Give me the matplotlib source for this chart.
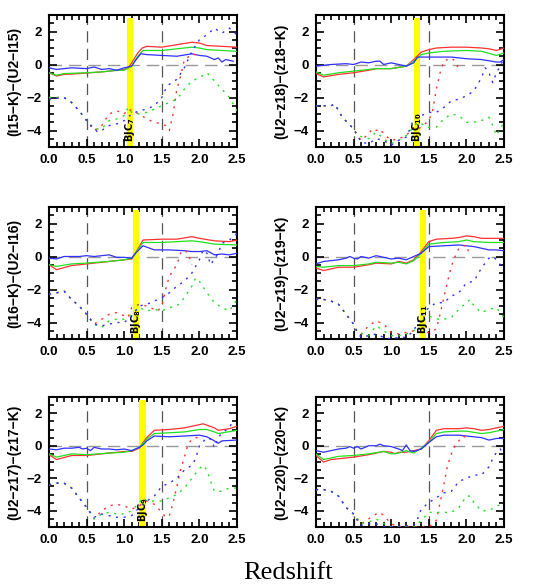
import matplotlib.pyplot as plt
from matplotlib.ticker import MultipleLocator

# panel labels and band positions
ylabels = ['(I15\u2212K)\u2212(U2\u2212I15)', '(U2\u2212z18)\u2212(z18\u2212K)',
           '(I16\u2212K)\u2212(U2\u2212I16)', '(U2\u2212z19)\u2212(z19\u2212K)',
           '(U2\u2212z17)\u2212(z17\u2212K)', '(U2\u2212z20)\u2212(z20\u2212K)']
band_z = [1.08, 1.345, 1.16, 1.425, 1.245, None]
band_names = ['7', '10', '8', '11', '9', None]

# ---- panel 1
p1_red = [(0, -0.5), (0.05, -0.6), (0.1, -0.7), (0.2, -0.6), (0.3, -0.58), (0.5, -0.52), (0.7, -0.45),
          (0.9, -0.35), (1.0, -0.3), (1.06, -0.15), (1.1, 0.1), (1.18, 0.7), (1.24, 1.0), (1.3, 1.1),
          (1.5, 1.05), (1.7, 1.2), (1.9, 1.35), (2.0, 1.3), (2.1, 1.15), (2.3, 1.1), (2.5, 1.05)]
p1_green = [(0, -0.5), (0.1, -0.65), (0.2, -0.55), (0.5, -0.5), (0.7, -0.45), (0.9, -0.35), (1.0, -0.35),
            (1.1, -0.1), (1.18, 0.5), (1.25, 0.85), (1.5, 0.85), (1.7, 0.95), (1.9, 1.05), (2.0, 1.0),
            (2.1, 0.9), (2.3, 0.85), (2.5, 0.8)]
p1_blue = [(0, -0.2), (0.1, -0.3), (0.3, -0.2), (0.5, -0.25), (0.6, -0.15), (0.7, -0.3), (0.8, -0.25),
           (0.9, -0.35), (1.0, -0.2), (1.1, -0.1), (1.15, 0.25), (1.22, 0.65), (1.3, 0.6), (1.5, 0.55),
           (1.7, 0.5), (1.9, 0.65), (2.0, 0.55), (2.1, 0.5), (2.2, 0.3), (2.25, 0.4), (2.3, 0.15),
           (2.35, 0.3), (2.45, 0.2)]
p1_red_d = [(0, -2.0), (0.2, -2.0), (0.3, -2.3), (0.4, -2.8), (0.5, -3.4), (0.6, -4.0), (0.7, -3.7),
            (0.8, -3.0), (0.9, -2.8), (1.0, -3.0), (1.05, -2.7), (1.1, -2.8), (1.2, -3.0), (1.3, -3.3),
            (1.4, -3.5), (1.5, -3.6), (1.55, -3.7), (1.6, -4.0), (1.65, -3.0), (1.7, -1.5), (1.75, -0.7),
            (1.8, 0.3), (1.9, 0.6), (2.0, 0.6)]
p1_green_d = [(0, -2.0), (0.2, -2.0), (0.3, -2.3), (0.4, -2.8), (0.5, -3.4), (0.6, -3.9), (0.7, -3.9),
              (0.8, -3.4), (0.9, -3.3), (1.0, -3.1), (1.05, -2.6), (1.1, -2.9), (1.2, -3.0), (1.3, -2.9),
              (1.4, -2.7), (1.5, -2.5), (1.6, -2.3), (1.7, -2.1), (1.8, -1.5), (1.9, -1.0), (2.0, -0.8),
              (2.1, -0.5), (2.2, -1.0), (2.3, -1.5), (2.4, -2.0), (2.5, -2.8)]
p1_blue_d = [(0, -2.1), (0.2, -2.0), (0.3, -2.3), (0.4, -2.8), (0.5, -3.4), (0.6, -3.9), (0.65, -4.1),
             (0.7, -4.0), (0.8, -3.7), (0.9, -3.6), (1.0, -3.4), (1.1, -3.0), (1.2, -2.8), (1.3, -2.7),
             (1.4, -2.5), (1.5, -2.0), (1.55, -1.5), (1.6, -1.2), (1.7, -0.9), (1.8, -0.2), (1.9, 0.8),
             (2.0, 1.5), (2.1, 1.8), (2.2, 2.2), (2.3, 1.9), (2.4, 2.2), (2.5, 1.8)]

# ---- panel 2
p2_red = [(0, -0.55), (0.1, -0.75), (0.3, -0.6), (0.5, -0.5), (0.7, -0.35), (0.8, -0.25), (1.0, -0.25),
          (1.2, -0.1), (1.3, 0.3), (1.4, 0.75), (1.5, 0.9), (1.6, 1.0), (1.8, 1.05), (2.0, 1.05),
          (2.2, 1.0), (2.3, 0.95), (2.4, 0.85), (2.5, 1.0)]
p2_green = [(0, -0.45), (0.1, -0.65), (0.3, -0.5), (0.5, -0.4), (0.8, -0.25), (1.0, -0.25), (1.2, -0.1),
            (1.3, 0.2), (1.4, 0.6), (1.5, 0.7), (1.7, 0.8), (2.0, 0.85), (2.2, 0.8), (2.4, 0.55), (2.5, 0.7)]
p2_blue = [(0, -0.1), (0.2, 0.0), (0.4, 0.05), (0.5, 0.0), (0.6, 0.15), (0.7, 0.1), (0.8, 0.2),
           (0.85, 0.2), (0.9, 0.0), (1.0, 0.1), (1.1, 0.0), (1.2, -0.1), (1.3, 0.1), (1.35, 0.45),
           (1.5, 0.45), (1.8, 0.45), (2.0, 0.35), (2.2, 0.3), (2.4, 0.15), (2.45, 0.15), (2.5, 0.3)]
p2_red_d = [(0, -2.5), (0.2, -2.5), (0.25, -2.4), (0.35, -3.2), (0.5, -3.9), (0.55, -4.3), (0.6, -4.6),
            (0.7, -4.2), (0.75, -3.9), (0.8, -4.0), (0.85, -3.9), (0.9, -4.2), (1.0, -4.6), (1.1, -4.5),
            (1.2, -4.3), (1.3, -3.8), (1.35, -3.9), (1.4, -3.8), (1.5, -3.4), (1.55, -2.8), (1.6, -1.5),
            (1.65, -0.5), (1.7, 0.2), (1.8, 0.4), (1.85, 0.2), (1.9, -0.3)]
p2_green_d = [(0, -2.5), (0.2, -2.5), (0.25, -2.4), (0.35, -3.2), (0.5, -3.9), (0.55, -4.3), (0.7, -4.5),
              (0.8, -4.1), (0.9, -4.5), (1.0, -4.8), (1.1, -4.6), (1.2, -4.3), (1.3, -3.8), (1.35, -3.5),
              (1.4, -3.6), (1.5, -3.8), (1.6, -3.8), (1.7, -3.3), (1.8, -3.0), (1.9, -3.1), (2.0, -3.5),
              (2.1, -3.5), (2.2, -3.4), (2.3, -3.2), (2.35, -3.7), (2.4, -4.3), (2.5, -3.5)]
p2_blue_d = [(0, -2.5), (0.2, -2.5), (0.25, -2.4), (0.35, -3.2), (0.5, -3.9), (0.55, -4.3), (0.6, -4.7),
             (0.7, -4.8), (0.8, -4.5), (0.9, -4.6), (1.0, -4.9), (1.1, -4.6), (1.2, -4.4), (1.25, -3.9),
             (1.3, -3.3), (1.4, -3.1), (1.5, -2.9), (1.6, -2.9), (1.7, -2.6), (1.8, -2.2), (1.9, -2.1),
             (2.0, -1.9), (2.1, -1.6), (2.2, -0.8), (2.25, -0.2), (2.3, -0.5), (2.35, -1.1), (2.4, -0.5),
             (2.45, -0.1), (2.5, 0.4)]

# ---- panel 3
p3_red = [(0, -0.5), (0.1, -0.8), (0.3, -0.55), (0.5, -0.45), (0.8, -0.3), (1.0, -0.2), (1.1, -0.15),
          (1.15, 0.2), (1.25, 1.0), (1.5, 1.05), (1.7, 1.05), (1.9, 1.2), (2.0, 1.1), (2.2, 0.95),
          (2.4, 0.9), (2.5, 1.0)]
p3_green = [(0, -0.5), (0.1, -0.6), (0.3, -0.45), (0.5, -0.4), (0.8, -0.3), (1.0, -0.2), (1.1, -0.1),
            (1.15, 0.2), (1.25, 0.85), (1.5, 0.85), (1.7, 0.9), (1.9, 0.95), (2.0, 0.9), (2.2, 0.75),
            (2.5, 0.7)]
p3_blue = [(0, -0.1), (0.1, -0.15), (0.2, 0.0), (0.4, 0.0), (0.5, 0.05), (0.6, 0.0), (0.7, 0.05),
           (0.8, 0.1), (0.9, -0.05), (1.0, -0.05), (1.1, -0.1), (1.15, 0.2), (1.25, 0.65), (1.4, 0.4),
           (1.6, 0.4), (1.8, 0.35), (1.9, 0.3), (2.0, 0.3), (2.1, 0.35), (2.2, 0.1), (2.3, 0.15),
           (2.4, 0.1), (2.5, 0.2)]
p3_red_d = [(0, -2.3), (0.1, -2.2), (0.2, -2.1), (0.3, -2.6), (0.4, -3.0), (0.5, -3.5), (0.6, -4.1),
            (0.7, -3.8), (0.8, -3.5), (0.9, -3.4), (1.0, -3.6), (1.05, -3.7), (1.1, -3.1), (1.2, -2.9),
            (1.3, -3.0), (1.4, -3.2), (1.45, -3.3), (1.5, -3.0), (1.55, -2.0), (1.6, -1.2), (1.7, -0.5),
            (1.75, 0.2), (1.8, 0.4), (1.85, 0.2), (1.9, -0.5)]
p3_green_d = [(0, -2.3), (0.1, -2.2), (0.2, -2.1), (0.3, -2.6), (0.4, -3.0), (0.5, -3.5), (0.6, -4.1),
              (0.7, -4.3), (0.8, -3.9), (0.9, -3.8), (1.0, -3.8), (1.1, -3.5), (1.2, -3.1), (1.3, -3.3),
              (1.4, -3.2), (1.5, -3.3), (1.6, -3.1), (1.7, -3.0), (1.8, -2.5), (1.9, -1.8), (1.95, -1.3),
              (2.0, -1.5), (2.1, -2.2), (2.2, -2.8), (2.3, -3.1), (2.4, -3.3), (2.5, -2.6)]
p3_blue_d = [(0, -2.3), (0.1, -2.2), (0.2, -2.1), (0.3, -2.6), (0.4, -3.0), (0.5, -3.5), (0.6, -4.1),
             (0.7, -4.2), (0.8, -4.1), (0.9, -4.0), (1.0, -4.0), (1.1, -3.6), (1.2, -3.0), (1.3, -2.9),
             (1.4, -2.7), (1.5, -2.5), (1.6, -2.2), (1.7, -1.8), (1.8, -1.5), (1.9, -1.0), (2.0, -0.2),
             (2.05, 0.4), (2.1, 0.2), (2.15, -0.5), (2.25, 0.2), (2.3, 0.8), (2.4, 1.0), (2.5, 1.4)]

# ---- panel 4
p4_red = [(0, -0.7), (0.1, -0.85), (0.3, -0.65), (0.5, -0.65), (0.7, -0.5), (0.8, -0.4), (1.0, -0.45),
          (1.1, -0.3), (1.2, -0.4), (1.3, -0.2), (1.4, 0.3), (1.5, 0.9), (1.6, 1.05), (1.8, 1.1),
          (1.9, 1.15), (2.0, 1.25), (2.1, 1.2), (2.2, 1.1), (2.4, 1.1), (2.5, 1.1)]
p4_green = [(0, -0.6), (0.1, -0.65), (0.3, -0.55), (0.5, -0.55), (0.7, -0.45), (0.8, -0.35), (1.0, -0.4),
            (1.1, -0.35), (1.2, -0.45), (1.3, -0.25), (1.4, 0.2), (1.5, 0.75), (1.7, 0.85), (1.9, 0.9),
            (2.0, 1.0), (2.1, 0.9), (2.3, 0.85), (2.5, 0.85)]
p4_blue = [(0, -0.45), (0.1, -0.3), (0.2, -0.25), (0.3, -0.2), (0.4, -0.1), (0.45, 0.0), (0.5, -0.1),
           (0.55, -0.15), (0.6, 0.0), (0.7, -0.1), (0.8, 0.05), (0.9, -0.05), (1.0, -0.15), (1.1, -0.1),
           (1.2, -0.2), (1.3, 0.0), (1.4, 0.2), (1.5, 0.6), (1.7, 0.65), (1.9, 0.7), (2.0, 0.65),
           (2.1, 0.6), (2.3, 0.4), (2.4, 0.4), (2.5, 0.35)]
p4_red_d = [(0, -2.6), (0.1, -2.6), (0.2, -2.7), (0.3, -2.9), (0.4, -3.5), (0.5, -4.1), (0.55, -4.6),
            (0.6, -4.7), (0.7, -4.2), (0.8, -3.9), (0.9, -4.1), (1.0, -4.6), (1.1, -4.7), (1.2, -4.6),
            (1.3, -4.5), (1.4, -4.6), (1.5, -4.6), (1.6, -4.4), (1.65, -3.5), (1.7, -2.5), (1.75, -1.5),
            (1.8, -0.6), (1.85, 0.0), (1.9, 0.5), (2.0, 0.7), (2.05, 0.0)]
p4_green_d = [(0, -2.6), (0.1, -2.6), (0.2, -2.7), (0.3, -2.9), (0.4, -3.5), (0.5, -4.1), (0.55, -4.6),
              (0.7, -4.8), (0.8, -4.2), (0.9, -4.5), (1.0, -4.8), (1.1, -4.8), (1.2, -4.7), (1.3, -4.5),
              (1.4, -4.0), (1.5, -3.6), (1.6, -3.8), (1.7, -3.8), (1.8, -3.7), (1.9, -3.2), (2.0, -2.8),
              (2.05, -2.6), (2.1, -3.0), (2.2, -3.4), (2.3, -3.2), (2.4, -3.1), (2.5, -3.7)]
p4_blue_d = [(0, -2.6), (0.1, -2.6), (0.2, -2.7), (0.3, -2.9), (0.4, -3.5), (0.5, -4.1), (0.55, -4.6),
             (0.6, -4.9), (0.7, -4.8), (0.8, -4.7), (0.9, -4.9), (1.0, -5.0), (1.1, -4.9), (1.2, -4.9),
             (1.3, -4.5), (1.35, -4.0), (1.4, -3.6), (1.5, -3.1), (1.6, -2.8), (1.7, -2.8), (1.8, -2.4),
             (1.9, -2.2), (2.0, -1.6), (2.1, -1.5), (2.2, -0.7), (2.3, -0.1), (2.35, 0.0), (2.4, -0.2),
             (2.45, -0.5), (2.5, -0.6)]

# ---- panel 5
p5_red = [(0, -0.55), (0.1, -0.85), (0.3, -0.6), (0.5, -0.6), (0.8, -0.45), (1.0, -0.35), (1.1, -0.35),
          (1.2, -0.15), (1.25, 0.2), (1.3, 0.5), (1.4, 0.95), (1.6, 1.0), (1.8, 1.1), (2.0, 1.3),
          (2.05, 1.35), (2.2, 1.1), (2.25, 0.95), (2.4, 1.05), (2.5, 1.2)]
p5_green = [(0, -0.5), (0.1, -0.7), (0.3, -0.5), (0.5, -0.55), (0.8, -0.45), (1.0, -0.4), (1.1, -0.3),
            (1.2, -0.1), (1.3, 0.4), (1.4, 0.75), (1.6, 0.8), (1.8, 0.85), (2.0, 1.0), (2.1, 1.0),
            (2.2, 0.85), (2.25, 0.75), (2.5, 0.95)]
p5_blue = [(0, -0.2), (0.1, -0.25), (0.2, -0.15), (0.3, -0.15), (0.4, -0.1), (0.45, -0.2), (0.5, -0.15),
           (0.55, -0.3), (0.6, -0.1), (0.7, -0.2), (0.8, -0.2), (0.9, -0.25), (1.0, -0.2), (1.1, -0.3),
           (1.2, -0.1), (1.25, 0.05), (1.3, 0.3), (1.4, 0.6), (1.6, 0.55), (1.8, 0.6), (2.0, 0.65),
           (2.1, 0.55), (2.2, 0.3), (2.25, 0.15), (2.3, 0.3), (2.5, 0.35)]
p5_red_d = [(0, -2.4), (0.1, -2.3), (0.2, -2.3), (0.3, -2.6), (0.4, -3.2), (0.5, -3.8), (0.6, -4.5),
            (0.7, -4.0), (0.8, -3.7), (0.9, -3.6), (1.0, -3.7), (1.1, -3.9), (1.2, -3.7), (1.3, -3.4),
            (1.4, -3.6), (1.5, -4.1), (1.55, -4.4), (1.6, -4.3), (1.65, -3.5), (1.7, -2.5), (1.75, -1.5),
            (1.8, -0.7), (1.85, 0.1), (1.9, 0.4), (1.95, 0.5), (2.0, 0.5)]
p5_green_d = [(0, -2.4), (0.1, -2.3), (0.2, -2.3), (0.3, -2.6), (0.4, -3.2), (0.5, -3.8), (0.6, -4.5),
              (0.7, -4.2), (0.8, -4.1), (0.9, -4.2), (1.0, -4.2), (1.1, -4.0), (1.2, -3.5), (1.25, -3.2),
              (1.3, -3.4), (1.4, -3.4), (1.5, -3.4), (1.6, -3.2), (1.7, -3.0), (1.8, -2.6), (1.9, -2.0),
              (2.0, -1.4), (2.05, -1.2), (2.1, -1.5), (2.15, -2.2), (2.2, -2.8), (2.3, -2.8), (2.4, -2.6),
              (2.5, -2.6)]
p5_blue_d = [(0, -2.4), (0.1, -2.3), (0.2, -2.3), (0.3, -2.6), (0.4, -3.2), (0.5, -3.8), (0.6, -4.4),
             (0.7, -4.2), (0.8, -4.3), (0.9, -4.4), (1.0, -4.4), (1.1, -4.3), (1.2, -3.8), (1.3, -3.4),
             (1.4, -3.1), (1.5, -2.5), (1.6, -2.3), (1.7, -2.0), (1.8, -1.5), (1.9, -1.2), (1.95, -0.8),
             (2.0, 0.0), (2.1, 0.5), (2.15, 0.4), (2.2, -0.1), (2.25, 0.5), (2.3, 0.8), (2.4, 1.1),
             (2.45, 1.6)]

# ---- panel 6
p6_red = [(0, -0.6), (0.1, -1.0), (0.2, -0.85), (0.3, -0.8), (0.5, -0.7), (0.7, -0.55), (0.9, -0.35),
          (1.0, -0.4), (1.05, -0.5), (1.1, -0.4), (1.2, -0.4), (1.3, -0.3), (1.4, -0.2), (1.5, 0.3),
          (1.6, 0.95), (1.7, 1.05), (1.9, 1.05), (2.0, 1.1), (2.1, 1.05), (2.2, 0.95), (2.3, 1.0),
          (2.4, 1.1), (2.5, 1.2)]
p6_green = [(0, -0.5), (0.1, -0.85), (0.3, -0.65), (0.5, -0.6), (0.7, -0.5), (0.9, -0.35), (1.0, -0.5),
            (1.1, -0.45), (1.2, -0.3), (1.3, -0.45), (1.4, -0.15), (1.5, 0.2), (1.6, 0.75), (1.7, 0.85),
            (1.9, 0.9), (2.0, 0.9), (2.2, 0.75), (2.3, 0.8), (2.5, 1.0)]
p6_blue = [(0, -0.3), (0.1, -0.4), (0.2, -0.3), (0.3, -0.2), (0.4, -0.15), (0.45, -0.05), (0.5, -0.15),
           (0.55, -0.05), (0.6, -0.2), (0.65, -0.1), (0.7, 0.0), (0.8, 0.0), (0.85, 0.1), (0.9, 0.0),
           (1.0, -0.05), (1.1, -0.2), (1.15, -0.3), (1.2, 0.05), (1.25, -0.3), (1.3, -0.35), (1.4, -0.2),
           (1.5, 0.2), (1.6, 0.55), (1.7, 0.65), (1.9, 0.65), (2.0, 0.6), (2.2, 0.5), (2.3, 0.35),
           (2.4, 0.45), (2.5, 0.45)]
p6_red_d = [(0, -2.7), (0.1, -2.7), (0.2, -2.8), (0.3, -3.1), (0.4, -3.8), (0.5, -4.2), (0.6, -4.8),
            (0.7, -4.5), (0.8, -4.2), (0.85, -4.1), (0.9, -4.3), (1.0, -4.8), (1.1, -5.0), (1.5, -5.0),
            (1.6, -4.6), (1.65, -3.5), (1.7, -2.4), (1.75, -1.2), (1.8, -0.5), (1.85, 0.0), (1.9, 0.3),
            (1.95, 0.6), (2.0, 0.5)]
p6_green_d = [(0, -2.7), (0.1, -2.7), (0.2, -2.8), (0.3, -3.1), (0.4, -3.8), (0.5, -4.2), (0.6, -4.8),
              (0.7, -4.7), (0.8, -4.5), (0.9, -4.8), (1.0, -5.0), (1.3, -5.0), (1.4, -4.6), (1.5, -4.1),
              (1.6, -4.1), (1.7, -4.1), (1.8, -4.1), (1.9, -3.8), (2.0, -3.1), (2.05, -3.1), (2.1, -3.5),
              (2.2, -4.0), (2.3, -4.0), (2.4, -3.7), (2.5, -3.6)]
p6_blue_d = [(0, -2.7), (0.1, -2.7), (0.2, -2.8), (0.3, -3.1), (0.4, -3.8), (0.5, -4.2), (0.55, -4.6),
             (0.6, -4.9), (0.7, -4.8), (0.8, -4.8), (0.9, -5.0), (1.3, -4.9), (1.35, -4.5), (1.4, -3.9),
             (1.5, -3.5), (1.6, -3.2), (1.7, -2.9), (1.8, -2.8), (1.9, -2.2), (2.0, -2.0), (2.1, -1.8),
             (2.2, -1.8), (2.3, -1.3), (2.35, -0.8), (2.4, -0.4), (2.45, -0.2), (2.5, -0.6)]

panels = [
    (p1_red, p1_green, p1_blue, p1_red_d, p1_green_d, p1_blue_d),
    (p2_red, p2_green, p2_blue, p2_red_d, p2_green_d, p2_blue_d),
    (p3_red, p3_green, p3_blue, p3_red_d, p3_green_d, p3_blue_d),
    (p4_red, p4_green, p4_blue, p4_red_d, p4_green_d, p4_blue_d),
    (p5_red, p5_green, p5_blue, p5_red_d, p5_green_d, p5_blue_d),
    (p6_red, p6_green, p6_blue, p6_red_d, p6_green_d, p6_blue_d),
]
colors = ['#ff3030', '#20e020', '#3030ff']

plt.rcParams['font.family'] = ['Liberation Sans', 'DejaVu Sans']

fig = plt.figure(figsize=(5.38, 5.88), dpi=100)
W, H = 538, 588
lefts = [49, 316]
rows = [(15, 147), (207, 339), (397, 527)]

for i, series in enumerate(panels):
    r, c = divmod(i, 2)
    top, bot = rows[r]
    ax = fig.add_axes([lefts[c] / W, 1 - bot / H, 188 / W, (bot - top) / H])

    # reference lines
    ax.axhline(0, color='#999999', lw=1.0, ls=(0, (9, 5)), zorder=1)
    for xv in (0.5, 1.5):
        ax.axvline(xv, color='#555555', lw=0.9, ls=(0, (9, 5)), zorder=1)

    if band_z[i] is not None:
        ax.axvspan(band_z[i] - 0.042, band_z[i] + 0.042, ymin=0.006, ymax=0.98,
                   color='#ffff00', lw=0, zorder=2)

    for k, pts in enumerate(series):
        xs = [p[0] for p in pts]
        ys = [p[1] for p in pts]
        col = colors[k % 3]
        if k < 3:
            ax.plot(xs, ys, color=col, lw=0.9, zorder=3)
        else:
            ax.plot(xs, ys, color=col, lw=1.0, ls=(0, (1.5, 4)), zorder=3)

    if band_z[i] is not None:
        ax.text(band_z[i], -4.7, r'$\mathbf{BJC}_{\mathbf{%s}}$' % band_names[i], rotation=90,
                ha='center', va='bottom', fontsize=7, zorder=4)

    ax.set_xlim(0, 2.5)
    ax.set_ylim(-5, 3)
    ax.xaxis.set_major_locator(MultipleLocator(0.5))
    ax.xaxis.set_minor_locator(MultipleLocator(0.1))
    ax.yaxis.set_major_locator(MultipleLocator(2))
    ax.yaxis.set_minor_locator(MultipleLocator(0.5))
    ax.tick_params(which='both', direction='in', top=True, right=True, width=1.2)
    ax.tick_params(which='major', length=6, labelsize=9.5, pad=5)
    ax.tick_params(which='minor', length=3.5)
    for lab in ax.get_xticklabels() + ax.get_yticklabels():
        lab.set_fontweight('bold')
    ax.xaxis.set_major_formatter(plt.FormatStrFormatter('%.1f'))
    for s in ax.spines.values():
        s.set_linewidth(1.5)
    ax.set_ylabel(ylabels[i], fontsize=10, fontweight='bold', labelpad=4)

fig.text(288 / W, 1 - 573 / H, 'Redshift', family='Liberation Serif', fontsize=19,
         ha='center', va='center')

plt.savefig('out.png', dpi=100)
